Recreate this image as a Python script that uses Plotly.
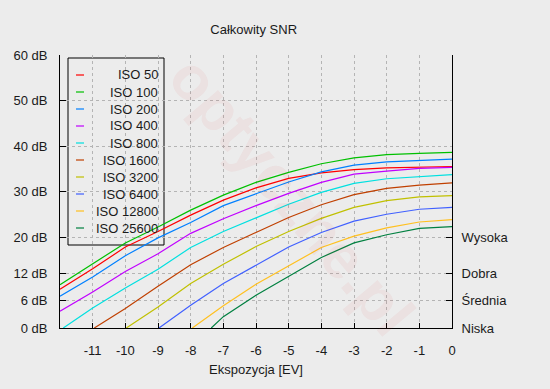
import plotly.graph_objects as go

# ---- data ----
iso_labels = ["ISO 50", "ISO 100", "ISO 200", "ISO 400", "ISO 800",
              "ISO 1600", "ISO 3200", "ISO 6400", "ISO 12800", "ISO 25600"]
colors = ["#ff0000", "#00c000", "#0080ff", "#c000ff", "#00e0e0",
          "#c04000", "#c0c000", "#4060ff", "#ffc020", "#008040"]

ev_full = [-12, -11, -10, -9, -8, -7, -6, -5, -4, -3, -2, -1, 0]

x_iso50 = ev_full
y_iso50 = [8.5, 13.0, 17.8, 21.2, 24.8, 28.1, 30.8, 32.9, 34.1, 34.8, 35.2, 35.3, 35.5]
x_iso100 = ev_full
y_iso100 = [9.5, 14.1, 18.7, 22.2, 25.9, 29.2, 32.0, 34.2, 36.1, 37.4, 38.1, 38.4, 38.6]
x_iso200 = ev_full
y_iso200 = [7.0, 11.2, 15.9, 19.8, 23.2, 26.9, 29.5, 32.1, 34.3, 35.8, 36.5, 36.8, 37.1]
x_iso400 = ev_full
y_iso400 = [3.7, 7.9, 12.4, 16.3, 20.8, 24.0, 26.9, 29.6, 32.0, 33.8, 34.5, 35.1, 35.3]
x_iso800 = [-11.9, -11, -10, -9, -8, -7, -6, -5, -4, -3, -2, -1, 0]
y_iso800 = [0.0, 4.4, 8.8, 12.9, 17.7, 21.2, 24.2, 27.2, 29.8, 31.8, 32.8, 33.3, 33.7]
x_iso1600 = [-10.95, -10, -9, -8, -7, -6, -5, -4, -3, -2, -1, 0]
y_iso1600 = [0.0, 4.3, 9.2, 13.9, 17.7, 21.0, 24.3, 27.1, 29.3, 30.7, 31.4, 31.9]
x_iso3200 = [-9.97, -9, -8, -7, -6, -5, -4, -3, -2, -1, 0]
y_iso3200 = [0.0, 4.6, 9.8, 14.0, 17.9, 21.2, 24.1, 26.5, 28.0, 28.8, 29.1]
x_iso6400 = [-8.97, -8, -7, -6, -5, -4, -3, -2, -1, 0]
y_iso6400 = [0.0, 5.0, 9.8, 13.8, 17.8, 21.0, 23.5, 25.0, 26.1, 26.5]
x_iso12800 = [-7.95, -7, -6, -5, -4, -3, -2, -1, 0]
y_iso12800 = [0.0, 4.9, 9.6, 13.6, 17.7, 20.2, 22.0, 23.3, 23.8]
x_iso25600 = [-7.37, -7, -6, -5, -4, -3, -2, -1, 0]
y_iso25600 = [0.0, 2.5, 7.2, 11.4, 15.5, 18.7, 20.5, 21.9, 22.3]

series_x = [x_iso50, x_iso100, x_iso200, x_iso400, x_iso800,
            x_iso1600, x_iso3200, x_iso6400, x_iso12800, x_iso25600]
series_y = [y_iso50, y_iso100, y_iso200, y_iso400, y_iso800,
            y_iso1600, y_iso3200, y_iso6400, y_iso12800, y_iso25600]

x_tickvals = [-11, -10, -9, -8, -7, -6, -5, -4, -3, -2, -1, 0]
x_ticktext = ["-11", "-10", "-9", "-8", "-7", "-6", "-5", "-4", "-3", "-2", "-1", "0"]
y_tickvals = [0, 6, 12, 20, 30, 40, 50, 60]
y_ticktext = ["0 dB", "6 dB", "12 dB", "20 dB", "30 dB", "40 dB", "50 dB", "60 dB"]
y2_tickvals = [0, 6, 12, 20]
y2_ticktext = ["Niska", "Średnia", "Dobra", "Wysoka"]

title_text = "Całkowity SNR"
x_title = "Ekspozycja [EV]"
watermark = "optyczne.pl"

# ---- figure ----
FONT = "Liberation Sans, Arial, sans-serif"
TXT = "#1a1a1a"
BG = "#ececec"
GRID = "#b4b4b4"

fig = go.Figure()
for xs, ys, name, col in zip(series_x, series_y, iso_labels, colors):
    fig.add_trace(go.Scatter(x=xs, y=ys, mode="lines", name=name,
                             line=dict(color=col, width=1.2),
                             showlegend=False))
# empty trace so the right-hand quality axis is drawn
fig.add_trace(go.Scatter(x=[], y=[], yaxis="y2", showlegend=False,
                         hoverinfo="skip"))

W, H = 550, 389
ML, MR, MT, MB = 60, 98, 55, 61
PW, PH = W - ML - MR, H - MT - MB


def px(xp):
    return (xp - ML) / PW


def py(yp):
    return (H - MB - yp) / PH


# custom legend (box + short samples + right-aligned text)
fig.add_shape(type="rect", xref="paper", yref="paper",
              x0=px(68), x1=px(164), y0=py(245), y1=py(58),
              line=dict(color="black", width=1), fillcolor=BG, layer="between")
for i, (name, col) in enumerate(zip(iso_labels, colors)):
    yy = 75 + i * 17.0
    fig.add_shape(type="line", xref="paper", yref="paper",
                  x0=px(76), x1=px(84), y0=py(yy), y1=py(yy),
                  line=dict(color=col, width=1.2), layer="above")
    fig.add_annotation(text=name, xref="paper", yref="paper",
                       x=px(160), y=py(yy), xanchor="right", yanchor="middle",
                       showarrow=False, font=dict(family=FONT, size=13, color=TXT))

# faint watermark
fig.add_annotation(text="<b>" + watermark + "</b>", xref="paper", yref="paper",
                   x=px(292), y=py(195), textangle=50, showarrow=False,
                   font=dict(family=FONT, size=62, color="rgba(225,40,40,0.055)"))

fig.update_layout(
    width=W, height=H,
    template="none",
    paper_bgcolor=BG, plot_bgcolor=BG,
    margin=dict(l=ML, r=MR, t=MT, b=MB, pad=0),
    font=dict(family=FONT, size=13, color=TXT),
    showlegend=False,
    hovermode=False,
    title=dict(text=title_text, x=253.7 / W, xanchor="center",
               y=1 - 29 / H, yanchor="middle", yref="container",
               font=dict(family=FONT, size=13, color=TXT)),
    xaxis=dict(range=[-12, 0], tickvals=x_tickvals, ticktext=x_ticktext,
               showline=True, linecolor="black", linewidth=1,
               ticks="inside", ticklen=5, tickcolor="black",
               showgrid=True, gridcolor=GRID, griddash="3px,3px", gridwidth=1,
               zeroline=False, ticklabelstandoff=10,
               title=dict(text=x_title, standoff=8,
                          font=dict(family=FONT, size=13, color=TXT))),
    yaxis=dict(range=[0, 60], tickvals=y_tickvals, ticktext=y_ticktext,
               showline=True, linecolor="black", linewidth=1,
               ticks="inside", ticklen=6, tickcolor="black",
               showgrid=True, gridcolor=GRID, griddash="3px,3px", gridwidth=1,
               zeroline=False, ticklabelstandoff=9),
    yaxis2=dict(range=[0, 60], overlaying="y", side="right",
                tickvals=y2_tickvals, ticktext=y2_ticktext,
                showline=True, linecolor="black", linewidth=1,
                ticks="inside", ticklen=6, tickcolor="black",
                showgrid=False, zeroline=False, ticklabelstandoff=6),
)

fig.write_html(
    "out.html",
    config={"displayModeBar": False},
    post_script="document.body.style.margin='0';"
                "document.body.style.background='" + BG + "';",
)
